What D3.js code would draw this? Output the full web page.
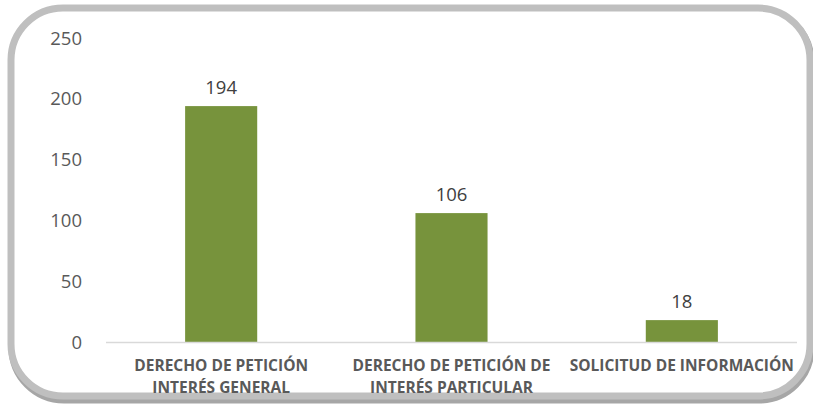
<!DOCTYPE html>
<html lang="es">
<head>
    <meta charset="UTF-8">
    <title>Derechos de petición</title>
    <script src="https://d3js.org/d3.v7.min.js"></script>
    <style>
        body{
            margin: 0;
            background: #fff;
        }
        text{
            font-family: "Open Sans", Lato, sans-serif;
        }
    </style>
</head>
<body>
    <div id="chart"></div>

    <script>
        // data
        const categories = [
            ["DERECHO DE PETICIÓN", "INTERÉS GENERAL"],
            ["DERECHO DE PETICIÓN DE", "INTERÉS PARTICULAR"],
            ["SOLICITUD DE INFORMACIÓN"]
        ];
        const values = [194, 106, 18];
        const yTicks = [0, 50, 100, 150, 200, 250];

        const width = 813;
        const height = 404;
        const margin = {top: 38, right: 16, bottom: 62, left: 106};

        const svg = d3.select("#chart")
            .append("svg")
            .attr("width", width)
            .attr("height", height);

        // rounded frame with a bit of shadow at the bottom
        svg.append("rect")
            .attr("x", 12).attr("y", 10)
            .attr("width", 799).attr("height", 390)
            .attr("rx", 52).attr("ry", 52)
            .attr("fill", "none")
            .attr("stroke", "#a6a6a6")
            .attr("stroke-width", 7);
        svg.append("rect")
            .attr("x", 11).attr("y", 8)
            .attr("width", 799).attr("height", 388)
            .attr("rx", 52).attr("ry", 52)
            .attr("fill", "#fff")
            .attr("stroke", "#bfbfbf")
            .attr("stroke-width", 7);

        const x = d3.scaleBand()
            .domain(d3.range(values.length))
            .range([margin.left, width - margin.right])
            .paddingInner(0.687)
            .paddingOuter(0.3435);

        const y = d3.scaleLinear()
            .domain([0, 250])
            .range([height - margin.bottom, margin.top]);

        // y tick labels (no axis line, no gridlines)
        svg.selectAll(".ytick")
            .data(yTicks)
            .enter().append("text")
            .attr("class", "ytick")
            .attr("x", 82)
            .attr("y", d => y(d))
            .attr("dy", "0.36em")
            .attr("text-anchor", "end")
            .attr("fill", "#595959")
            .style("font-size", "18.5px")
            .text(d => d);

        // bars
        svg.selectAll(".bar")
            .data(values)
            .enter().append("rect")
            .attr("class", "bar")
            .attr("x", (d, i) => x(i))
            .attr("y", d => y(d))
            .attr("width", x.bandwidth())
            .attr("height", d => y(0) - y(d))
            .attr("fill", "#77933c");

        // value labels
        svg.selectAll(".val")
            .data(values)
            .enter().append("text")
            .attr("class", "val")
            .attr("x", (d, i) => x(i) + x.bandwidth() / 2)
            .attr("y", d => y(d) - 19)
            .attr("dy", "0.36em")
            .attr("text-anchor", "middle")
            .attr("fill", "#404040")
            .style("font-size", "18.5px")
            .text(d => d);

        // baseline
        svg.append("line")
            .attr("x1", margin.left)
            .attr("x2", width - margin.right)
            .attr("y1", y(0) + 0.5)
            .attr("y2", y(0) + 0.5)
            .attr("stroke", "#d9d9d9")
            .attr("stroke-width", 1.5);

        // category labels
        const cat = svg.selectAll(".cat")
            .data(categories)
            .enter().append("text")
            .attr("class", "cat")
            .attr("text-anchor", "middle")
            .attr("fill", "#595959")
            .style("font-size", "15.5px")
            .style("font-weight", "bold");

        cat.selectAll("tspan")
            .data((d, i) => d.map(t => ({t, i})))
            .enter().append("tspan")
            .attr("x", d => x(d.i) + x.bandwidth() / 2)
            .attr("y", (d, j) => 371 + j * 22)
            .text(d => d.t);
    </script>
</body>
</html>
